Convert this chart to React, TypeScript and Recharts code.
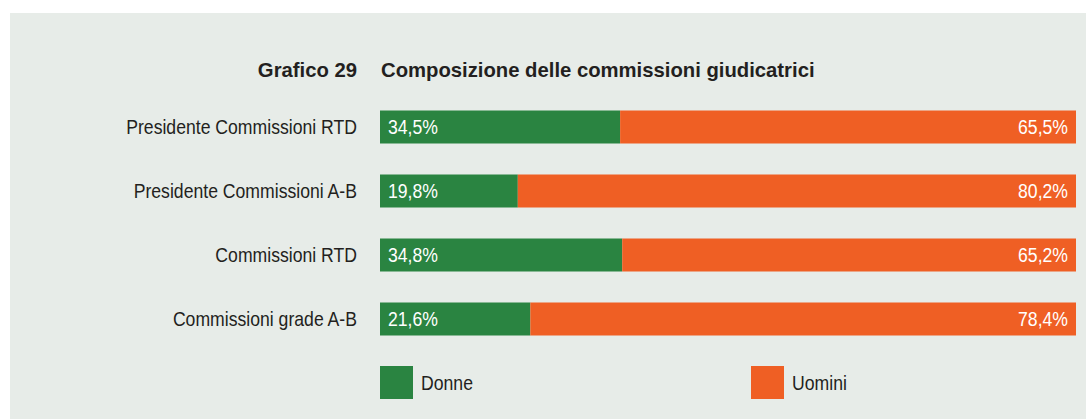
import React from "react";
import { Bar, BarChart, LabelList, Legend, XAxis, YAxis } from "recharts";

const categories = [
  "Presidente Commissioni RTD",
  "Presidente Commissioni A-B",
  "Commissioni RTD",
  "Commissioni grade A-B",
];
const donne = [34.5, 19.8, 34.8, 21.6];
const uomini = [65.5, 80.2, 65.2, 78.4];

const GREEN = "#2a8441";
const ORANGE = "#ef5f24";
const BG = "#e7ece8";
const TEXT = "#231f20";
// no condensed face installed, so Liberation Sans gets squeezed horizontally
const FONT = '"Liberation Sans", Arial, sans-serif';
const SQUEEZE = 0.86;

const data = categories.map((name, i) => ({
  name,
  donne: donne[i],
  uomini: uomini[i],
}));

const fmt = (v: any) => `${Number(v).toFixed(1).replace(".", ",")}%`;

const CategoryTick = (props: any) => {
  const { y, payload } = props;
  return (
    <text
      transform={`translate(357, ${y}) scale(${SQUEEZE}, 1)`}
      dy={7}
      textAnchor="end"
      fill={TEXT}
      fontSize={20.5}
      fontFamily={FONT}
    >
      {payload.value}
    </text>
  );
};

const barLabel = (side: "left" | "right") => (props: any) => {
  const { x, y, width, height, value } = props;
  const tx = side === "left" ? x + 8 : x + width - 8;
  return (
    <text
      transform={`translate(${tx}, ${y + height / 2}) scale(${SQUEEZE}, 1)`}
      dy={7}
      textAnchor={side === "left" ? "start" : "end"}
      fill="#fff"
      fontSize={20.5}
      fontFamily={FONT}
    >
      {fmt(value)}
    </text>
  );
};

const renderLegend = () => (
  <div style={{ position: "relative", width: 700, height: 33, fontFamily: FONT }}>
    {[
      { label: "Donne", color: GREEN, x: 0 },
      { label: "Uomini", color: ORANGE, x: 371 },
    ].map((item) => (
      <div
        key={item.label}
        style={{ position: "absolute", left: item.x, top: 0, display: "flex", alignItems: "center" }}
      >
        <div style={{ width: 33, height: 33, background: item.color }} />
        <span
          style={{
            marginLeft: 8,
            fontSize: 20.5,
            color: TEXT,
            display: "inline-block",
            transform: `scaleX(${SQUEEZE})`,
            transformOrigin: "left center",
          }}
        >
          {item.label}
        </span>
      </div>
    ))}
  </div>
);

export default function App() {
  return (
    <div style={{ position: "absolute", left: 0, top: 0, width: 1086, height: 419, background: "#fff" }}>
      <div style={{ position: "absolute", left: 10, top: 13, width: 1076, height: 406, background: BG }} />
      <svg style={{ position: "absolute", left: 0, top: 0 }} width={1086} height={100}>
        <g fontFamily={FONT} fontWeight={700} fontSize={21} fill={TEXT}>
          <text transform="translate(357, 77) scale(0.966, 1)" textAnchor="end">
            Grafico 29
          </text>
          <text transform="translate(381, 77) scale(0.966, 1)">
            Composizione delle commissioni giudicatrici
          </text>
        </g>
      </svg>
      <div style={{ position: "absolute", left: 0, top: 0 }}>
        <BarChart
          width={1086}
          height={419}
          data={data}
          layout="vertical"
          margin={{ top: 94.5, bottom: 68.5, left: 10, right: 10 }}
        >
          <XAxis type="number" domain={[0, 100]} hide />
          <YAxis
            type="category"
            dataKey="name"
            width={370}
            axisLine={false}
            tickLine={false}
            tick={<CategoryTick />}
          />
          <Legend
            verticalAlign="middle"
            align="center"
            content={renderLegend}
            wrapperStyle={{ position: "absolute", left: 380, top: 366, width: 700, height: 33 }}
          />
          <Bar dataKey="donne" name="Donne" stackId="a" fill={GREEN} barSize={33} isAnimationActive={false}>
            <LabelList dataKey="donne" content={barLabel("left")} />
          </Bar>
          <Bar dataKey="uomini" name="Uomini" stackId="a" fill={ORANGE} barSize={33} isAnimationActive={false}>
            <LabelList dataKey="uomini" content={barLabel("right")} />
          </Bar>
        </BarChart>
      </div>
    </div>
  );
}
